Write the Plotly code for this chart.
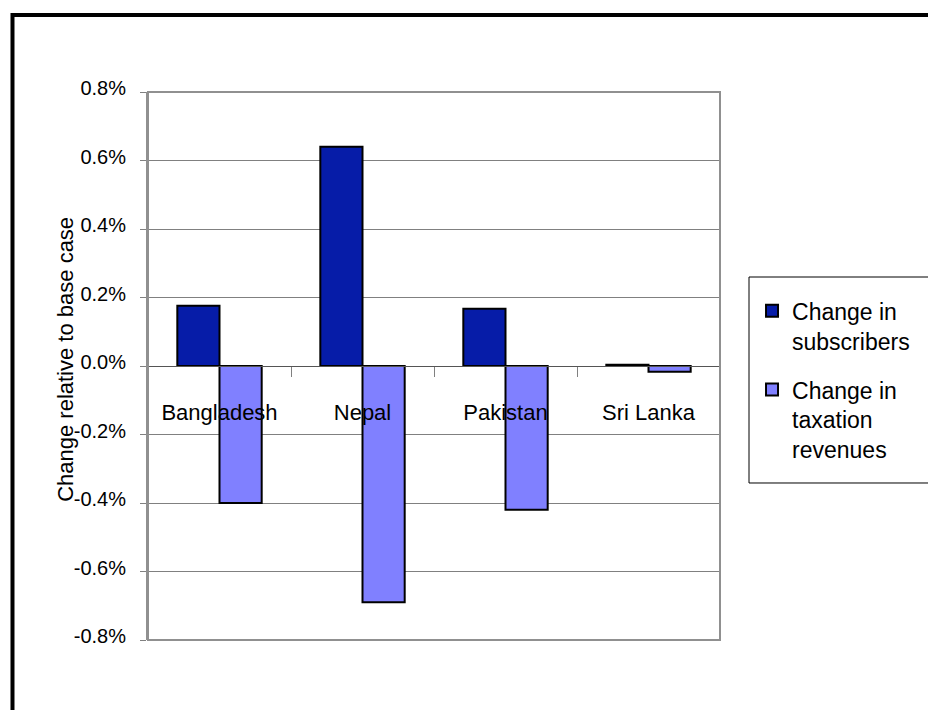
import plotly.graph_objects as go

countries = ["Bangladesh", "Nepal", "Pakistan", "Sri Lanka"]
subscribers_change = [0.00176, 0.0064, 0.00167, 0.00004]
taxation_change = [-0.0040, -0.0069, -0.0042, -0.00017]
y_ticks = [-0.008, -0.006, -0.004, -0.002, 0.0, 0.002, 0.004, 0.006, 0.008]
y_tick_text = ["-0.8%", "-0.6%", "-0.4%", "-0.2%", "0.0%", "0.2%", "0.4%", "0.6%", "0.8%"]

FONT = "Liberation Sans, Arial, sans-serif"

fig = go.Figure()
fig.add_trace(
    go.Bar(
        x=countries,
        y=subscribers_change,
        name="Change in<br>subscribers",
        legendgroup="subs",
        marker={"color": "#061ca8", "line": {"color": "black", "width": 2}},
    )
)
fig.add_trace(
    go.Bar(
        x=countries,
        y=taxation_change,
        name="Change in<br>taxation<br>revenues",
        legendgroup="tax",
        marker={"color": "#8080ff", "line": {"color": "black", "width": 2}},
    )
)

# the page adds an 8px body margin on the left/top
fig.update_layout(
    width=928,
    height=702,
    margin={"l": 140, "r": 216, "t": 84, "b": 70},
    paper_bgcolor="white",
    plot_bgcolor="white",
    font={"family": FONT, "size": 20, "color": "black"},
    barmode="group",
    bargap=0.41,
    bargroupgap=0,
    showlegend=True,
    legend={
        "x": 1.056,
        "y": 0.640,
        "xanchor": "left",
        "yanchor": "top",
        "valign": "top",
        "borderwidth": 0,
        "bgcolor": "rgba(0,0,0,0)",
        "font": {"size": 23},
        "tracegroupgap": 16,
        "traceorder": "grouped",
    },
    xaxis={
        "anchor": "free",
        "position": 0.5,
        "showgrid": False,
        "showline": True,
        "linecolor": "#555555",
        "linewidth": 1,
        "ticks": "outside",
        "tickson": "boundaries",
        "ticklen": 10,
        "tickcolor": "#808080",
        "tickfont": {"size": 22},
        "ticklabelstandoff": 27,
        "zeroline": False,
    },
    yaxis={
        "range": [-0.008, 0.008],
        "tickvals": y_ticks,
        "ticktext": y_tick_text,
        "showgrid": True,
        "gridcolor": "#808080",
        "gridwidth": 1,
        "zeroline": False,
        "showline": True,
        "linecolor": "#909090",
        "linewidth": 2,
        "ticks": "outside",
        "ticklen": 6,
        "tickcolor": "#808080",
        "tickfont": {"size": 20},
        "ticklabelstandoff": 10,
        "ticklabelshift": -4,
    },
    shapes=[
        # grey plot-area frame
        {
            "type": "rect",
            "xref": "x domain",
            "yref": "y domain",
            "x0": 0,
            "x1": 1,
            "y0": 0,
            "y1": 1,
            "line": {"color": "#909090", "width": 2},
            "layer": "above",
        },
        # legend box
        {
            "type": "rect",
            "xref": "paper",
            "yref": "paper",
            "x0": 1.0507,
            "x1": 1.372,
            "y0": 0.2865,
            "y1": 0.6624,
            "line": {"color": "black", "width": 1},
            "fillcolor": "white",
            "layer": "below",
        },
        # thick black chart border (cut off at right and bottom)
        {
            "type": "rect",
            "xref": "paper",
            "yref": "paper",
            "x0": -0.2369,
            "x1": 1.45,
            "y0": -0.3,
            "y1": 1.1405,
            "line": {"color": "black", "width": 4},
        },
    ],
    annotations=[
        {
            "text": "Change relative to base case",
            "textangle": -90,
            "xref": "paper",
            "yref": "paper",
            "x": -0.1434,
            "y": 0.513,
            "xanchor": "center",
            "yanchor": "middle",
            "showarrow": False,
            "font": {"size": 22},
        }
    ],
)

fig.write_html("out.html")
